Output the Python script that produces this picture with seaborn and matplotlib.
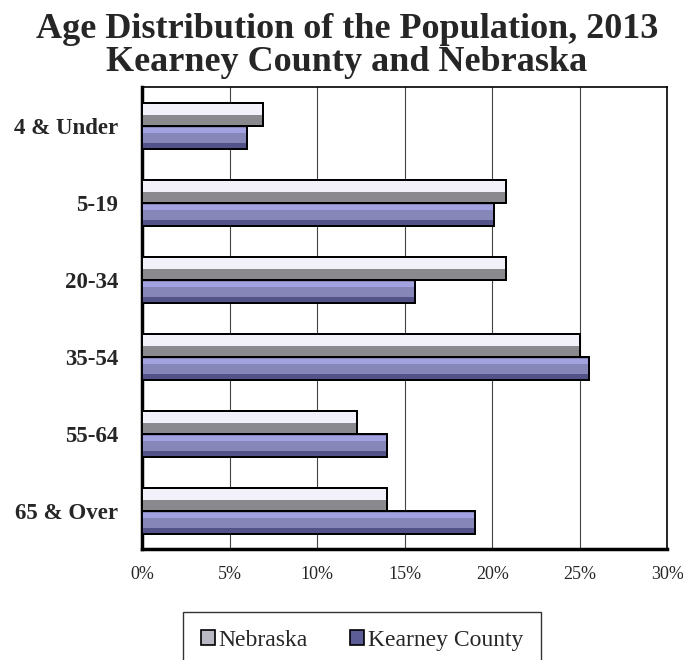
import matplotlib
matplotlib.use("Agg")
import matplotlib.pyplot as plt
import matplotlib.patches as mpatches
from matplotlib.ticker import MultipleLocator, PercentFormatter
import pandas as pd
import seaborn as sns

age_groups = ["4 & Under", "5-19", "20-34", "35-54", "55-64", "65 & Over"]
nebraska = [6.9, 20.8, 20.8, 25.0, 12.3, 14.0]
kearney = [6.0, 20.1, 15.6, 25.5, 14.0, 19.0]
series = ["Nebraska", "Kearney County"]


def main():
    sns.set_style("white")
    plt.rcParams["font.family"] = ["Liberation Serif", "DejaVu Serif"]

    df = pd.DataFrame({"Age": age_groups, "Nebraska": nebraska, "Kearney County": kearney})
    df = df.melt(id_vars="Age", var_name="Area", value_name="Percent")

    fig = plt.figure(figsize=(6.83, 6.60), dpi=100)
    ax = fig.add_axes([0.208, 0.168, 0.769, 0.700])

    base = {"Nebraska": "#f1f0fa", "Kearney County": "#7e7ec0"}
    sns.barplot(
        data=df, x="Percent", y="Age", hue="Area", order=age_groups,
        hue_order=series, palette=base, orient="h", width=0.6,
        edgecolor="black", linewidth=1.4, legend=False, ax=ax, zorder=3,
    )

    # bevel shading: (start fraction from top, height fraction, colour)
    bands = {
        "Nebraska": [(0.55, 0.45, "#8a898e")],
        "Kearney County": [(0.12, 0.2, "#a2a2e0"), (0.75, 0.25, "#53538a")],
    }
    n = len(age_groups)
    for i, patch in enumerate(ax.patches[: 2 * n]):
        name = series[i // n]
        x0, y0 = patch.get_x(), patch.get_y()
        w, h = patch.get_width(), patch.get_height()
        for start, frac, col in bands[name]:
            ax.add_patch(mpatches.Rectangle((x0, y0 + h * start), w, h * frac,
                                            facecolor=col, edgecolor="none", zorder=3.5))
        ax.add_patch(mpatches.Rectangle((x0, y0), w, h, facecolor="none",
                                        edgecolor="black", linewidth=1.4, zorder=4))

    ax.set_xlim(0, 30)
    ax.set_ylim(n - 0.5, -0.5)
    ax.xaxis.set_major_locator(MultipleLocator(5))
    ax.xaxis.set_major_formatter(PercentFormatter(decimals=0))
    ax.grid(axis="x", color="#444444", linewidth=0.8, zorder=0)
    ax.set_xlabel("")
    ax.set_ylabel("")

    ax.set_yticks(range(n))
    ax.set_yticklabels(age_groups, fontsize=16.5, fontweight="bold")
    ax.set_yticks([i + 0.5 for i in range(-1, n)], minor=True)
    ax.tick_params(axis="y", which="major", length=0, pad=17)
    ax.tick_params(axis="y", which="minor", length=5, width=2.5, direction="out")
    ax.tick_params(axis="x", length=5, width=2.5, direction="out", labelsize=13, pad=7)

    for side in ["top", "right"]:
        ax.spines[side].set_linewidth(1.2)
        ax.spines[side].set_color("black")
    for side in ["left", "bottom"]:
        ax.spines[side].set_linewidth(2.5)
        ax.spines[side].set_color("black")

    fig.suptitle("Age Distribution of the Population, 2013\nKearney County and Nebraska",
                 fontsize=26, fontweight="bold", x=0.508, y=0.98, linespacing=1.0)

    handles = [
        mpatches.Patch(facecolor="#b9b9c4", edgecolor="black", linewidth=1.2, label="Nebraska"),
        mpatches.Patch(facecolor="#5c5c96", edgecolor="black", linewidth=1.2, label="Kearney County"),
    ]
    leg = fig.legend(handles=handles, loc="center", bbox_to_anchor=(0.53, 0.03), ncol=2,
                     frameon=True, fancybox=False, fontsize=17, handlelength=0.6,
                     handleheight=0.6, handletextpad=0.15, columnspacing=1.8,
                     borderpad=0.75, edgecolor="black")
    leg.get_frame().set_linewidth(1.0)

    fig.savefig("out.png", dpi=100)


if __name__ == "__main__":
    main()
